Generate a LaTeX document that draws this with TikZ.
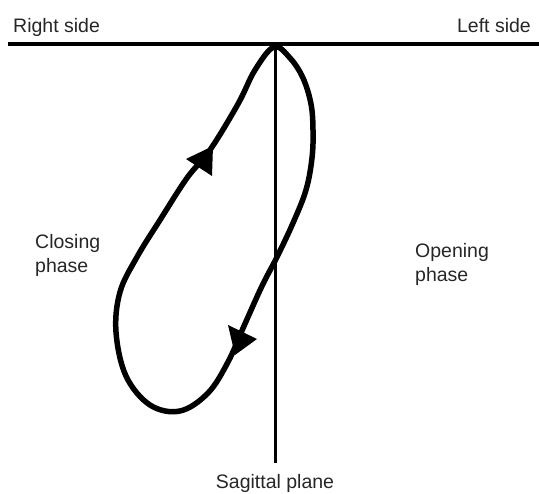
\documentclass[tikz,border=0pt]{standalone}
\usepackage{fontspec}
\setmainfont{Liberation Sans}
\begin{document}
\begin{tikzpicture}[x=1pt,y=-1pt,
  lbl/.style={inner sep=0pt,font=\fontsize{19.5}{24}\selectfont,text=black!85},
  loopline/.style={line width=5.5pt,line join=round},
  tri/.style={fill=black}]
\useasboundingbox (0,0) rectangle (539,494);
% lines
\coordinate (hl) at (8,44);
\coordinate (hr) at (539,44);
\coordinate (vt) at (275,44);
\coordinate (vb) at (275,463);
\draw[line width=4pt] (hl) -- (hr);
\draw[line width=3pt] (vt) -- (vb);
% loop
\draw[loopline] plot[smooth cycle,tension=0.6] coordinates {
 (274,47) (290,58) (303,78) (311,104) (313,130) (312,158) (306,190)
 (293,223) (277,257) (262,286) (244,326) (228,362) (208,393) (180,411)
 (150,405) (126,376) (116,332) (120,292) (137,257) (160,220) (187,178)
 (210,150) (238,104) (255,70)};
% arrowheads
\fill[tri] (213,146) -- (186,159) -- (212,176) -- cycle;
\fill[tri] (235,355) -- (228,325) -- (257,339) -- cycle;
% labels
\node[lbl,anchor=base west] (rs) at (13,33) {Right side};
\node[lbl,anchor=base east] (ls) at (531,33) {Left side};
\node[lbl,anchor=base west,align=left] (cp) at (35,273) {Closing\\phase};
\node[lbl,anchor=base west,align=left] (op) at (415,282) {Opening\\phase};
\node[lbl,anchor=base] (sp) at (275,489) {Sagittal plane};
\end{tikzpicture}
\end{document}
